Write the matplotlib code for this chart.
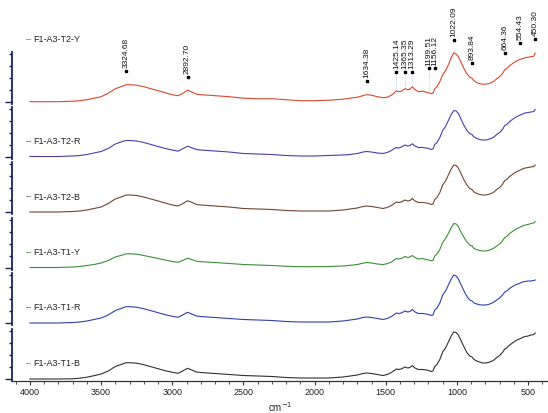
import matplotlib

matplotlib.use("Agg")
import matplotlib.pyplot as plt
from matplotlib.ticker import MultipleLocator, FixedLocator
import matplotlib.transforms as mtransforms

plt.rcParams['font.family'] = ['Liberation Sans', 'DejaVu Sans']

# wavenumbers (cm-1), shared by all spectra
wn = [4000, 3900, 3800, 3700, 3650, 3600, 3550, 3500, 3450, 3400, 3350, 3325,
      3300, 3250, 3200, 3150, 3100, 3050, 3000, 2960, 2930, 2893, 2860, 2830,
      2800, 2750, 2700, 2600, 2500, 2400, 2300, 2200, 2100, 2000, 1900, 1800,
      1750, 1700, 1660, 1634, 1600, 1560, 1520, 1490, 1460, 1440, 1425, 1410,
      1390, 1365, 1345, 1330, 1313, 1295, 1270, 1240, 1215, 1199, 1180, 1168,
      1156, 1140, 1120, 1100, 1080, 1060, 1040, 1022, 1005, 990, 970, 950,
      930, 910, 894, 880, 860, 840, 820, 800, 780, 760, 740, 720, 700, 680,
      664, 650, 630, 610, 590, 570, 554, 540, 520, 500, 480, 460, 450]

t2_y = [0.00, 0.00, 0.00, 0.005, 0.01, 0.02, 0.035, 0.05, 0.085, 0.13, 0.155, 0.17,
        0.17, 0.165, 0.15, 0.13, 0.11, 0.09, 0.07, 0.06, 0.08, 0.115, 0.095, 0.075,
        0.07, 0.065, 0.06, 0.05, 0.035, 0.03, 0.03, 0.02, 0.01, 0.01, 0.015, 0.025,
        0.035, 0.045, 0.06, 0.07, 0.065, 0.05, 0.04, 0.045, 0.065, 0.09, 0.11, 0.10,
        0.105, 0.13, 0.12, 0.125, 0.15, 0.12, 0.10, 0.105, 0.095, 0.09, 0.08, 0.085,
        0.13, 0.15, 0.20, 0.27, 0.31, 0.37, 0.44, 0.49, 0.475, 0.45, 0.39, 0.33,
        0.28, 0.245, 0.235, 0.21, 0.19, 0.18, 0.175, 0.175, 0.18, 0.19, 0.205, 0.23,
        0.25, 0.28, 0.32, 0.33, 0.36, 0.38, 0.40, 0.415, 0.425, 0.43, 0.44, 0.445,
        0.45, 0.455, 0.485]

t2_r = [0.00, 0.00, 0.00, 0.005, 0.01, 0.02, 0.035, 0.05, 0.08, 0.125, 0.15, 0.16,
        0.16, 0.155, 0.14, 0.12, 0.10, 0.08, 0.065, 0.053, 0.075, 0.103, 0.085, 0.07,
        0.065, 0.06, 0.055, 0.045, 0.03, 0.025, 0.02, 0.01, 0.005, 0.005, 0.01, 0.015,
        0.02, 0.03, 0.045, 0.05, 0.045, 0.035, 0.03, 0.04, 0.06, 0.08, 0.09, 0.085,
        0.095, 0.115, 0.105, 0.11, 0.127, 0.105, 0.09, 0.09, 0.085, 0.08, 0.07, 0.075,
        0.12, 0.14, 0.19, 0.26, 0.30, 0.36, 0.42, 0.46, 0.455, 0.43, 0.37, 0.31,
        0.26, 0.23, 0.22, 0.195, 0.18, 0.17, 0.165, 0.165, 0.17, 0.18, 0.195, 0.22,
        0.24, 0.27, 0.31, 0.32, 0.35, 0.37, 0.39, 0.405, 0.415, 0.425, 0.435, 0.44,
        0.445, 0.45, 0.47]

t2_b = [0.00, 0.00, 0.00, 0.005, 0.01, 0.02, 0.035, 0.05, 0.085, 0.13, 0.155, 0.17,
        0.17, 0.165, 0.15, 0.13, 0.11, 0.09, 0.07, 0.06, 0.08, 0.113, 0.095, 0.075,
        0.07, 0.065, 0.06, 0.05, 0.035, 0.03, 0.025, 0.015, 0.01, 0.01, 0.01, 0.02,
        0.03, 0.04, 0.055, 0.06, 0.055, 0.045, 0.035, 0.045, 0.065, 0.085, 0.10, 0.095,
        0.10, 0.12, 0.11, 0.115, 0.135, 0.11, 0.095, 0.095, 0.09, 0.085, 0.075, 0.08,
        0.125, 0.145, 0.195, 0.27, 0.31, 0.37, 0.43, 0.47, 0.465, 0.44, 0.38, 0.32,
        0.27, 0.235, 0.225, 0.20, 0.185, 0.175, 0.17, 0.17, 0.175, 0.185, 0.20, 0.225,
        0.245, 0.275, 0.315, 0.325, 0.355, 0.375, 0.395, 0.41, 0.42, 0.43, 0.44, 0.445,
        0.45, 0.455, 0.47]

t1_y = [0.00, 0.00, 0.00, 0.005, 0.01, 0.02, 0.03, 0.045, 0.07, 0.105, 0.125, 0.137,
        0.137, 0.133, 0.12, 0.105, 0.09, 0.075, 0.06, 0.052, 0.068, 0.093, 0.078, 0.062,
        0.058, 0.054, 0.05, 0.04, 0.03, 0.025, 0.02, 0.012, 0.008, 0.008, 0.01, 0.015,
        0.022, 0.03, 0.043, 0.05, 0.045, 0.035, 0.03, 0.038, 0.055, 0.075, 0.09, 0.085,
        0.09, 0.11, 0.10, 0.105, 0.12, 0.10, 0.085, 0.09, 0.08, 0.075, 0.068, 0.072,
        0.115, 0.135, 0.18, 0.25, 0.29, 0.34, 0.40, 0.44, 0.435, 0.41, 0.35, 0.30,
        0.255, 0.225, 0.215, 0.19, 0.178, 0.17, 0.165, 0.165, 0.17, 0.18, 0.195, 0.215,
        0.235, 0.265, 0.30, 0.31, 0.34, 0.36, 0.38, 0.395, 0.405, 0.415, 0.425, 0.43,
        0.44, 0.445, 0.46]

t1_r = [0.00, 0.00, 0.00, 0.005, 0.01, 0.02, 0.035, 0.05, 0.08, 0.125, 0.15, 0.163,
        0.163, 0.158, 0.143, 0.123, 0.103, 0.083, 0.067, 0.057, 0.078, 0.107, 0.088, 0.07,
        0.065, 0.06, 0.055, 0.045, 0.035, 0.03, 0.025, 0.015, 0.01, 0.01, 0.01, 0.02,
        0.03, 0.04, 0.055, 0.06, 0.055, 0.045, 0.035, 0.045, 0.065, 0.085, 0.10, 0.095,
        0.10, 0.12, 0.11, 0.115, 0.135, 0.11, 0.095, 0.095, 0.09, 0.085, 0.075, 0.08,
        0.13, 0.15, 0.20, 0.28, 0.32, 0.38, 0.44, 0.48, 0.47, 0.44, 0.38, 0.32,
        0.265, 0.23, 0.22, 0.20, 0.19, 0.182, 0.18, 0.18, 0.185, 0.195, 0.21, 0.23,
        0.25, 0.28, 0.31, 0.32, 0.345, 0.365, 0.38, 0.39, 0.40, 0.41, 0.415, 0.42,
        0.42, 0.425, 0.43]

t1_b = [0.00, 0.00, 0.00, 0.002, 0.008, 0.018, 0.033, 0.05, 0.08, 0.125, 0.15, 0.163,
        0.163, 0.158, 0.143, 0.123, 0.103, 0.083, 0.067, 0.057, 0.078, 0.107, 0.088, 0.07,
        0.065, 0.06, 0.055, 0.045, 0.035, 0.03, 0.025, 0.015, 0.01, 0.01, 0.01, 0.02,
        0.03, 0.04, 0.055, 0.06, 0.055, 0.045, 0.035, 0.045, 0.065, 0.085, 0.10, 0.095,
        0.10, 0.12, 0.11, 0.115, 0.135, 0.11, 0.095, 0.095, 0.09, 0.085, 0.075, 0.08,
        0.125, 0.145, 0.195, 0.27, 0.31, 0.37, 0.43, 0.47, 0.465, 0.44, 0.38, 0.32,
        0.265, 0.23, 0.22, 0.195, 0.18, 0.17, 0.16, 0.16, 0.165, 0.175, 0.19, 0.215,
        0.235, 0.265, 0.30, 0.31, 0.34, 0.36, 0.38, 0.395, 0.405, 0.415, 0.425, 0.43,
        0.44, 0.445, 0.46]

names = ["F1-A3-T2-Y", "F1-A3-T2-R", "F1-A3-T2-B",
         "F1-A3-T1-Y", "F1-A3-T1-R", "F1-A3-T1-B"]
spectra = [t2_y, t2_r, t2_b, t1_y, t1_r, t1_b]
colors = ["#d8482c", "#4b3cae", "#6e4632", "#3c8f38", "#3040a8", "#303030"]
dash_colors = ["#d8482c", "#3a3ad0", "#555555", "#2f6f2f", "#3a3ad0", "#777777"]

# peaks labelled on the top spectrum: wavenumber, marker height, curve height
peak_wn = [3324.68, 2892.70, 1634.38, 1425.14, 1365.35, 1313.29, 1199.51,
           1156.12, 1022.09, 893.84, 664.36, 554.43, 450.30]
peak_h = [0.31, 0.25, 0.21, 0.30, 0.30, 0.30, 0.334, 0.334, 0.615, 0.385,
          0.485, 0.585, 0.625]
peak_curve = [0.17, 0.115, 0.07, 0.11, 0.13, 0.15, 0.09, 0.13, 0.49, 0.235,
              0.32, 0.425, 0.485]
dotted_peaks = [1425.14, 1365.35, 1313.29, 1199.51]

W, H = 548, 413
fig = plt.figure(figsize=(W / 100, H / 100), dpi=100)

baselines = [101.7, 156.5, 212, 267.5, 323, 379]
left_px = 12.3
axis_col = "#18245e"

for i, (name, spec, col) in enumerate(zip(names, spectra, colors)):
    b = baselines[i]
    top_px = b - 50
    bot_px = b + 2
    ax = fig.add_axes([left_px / W, 1 - bot_px / H, (W - left_px) / W, (bot_px - top_px) / H])
    ax.plot(wn, spec, color=col, lw=0.8)
    ax.set_xlim(4124, 360)
    ax.set_ylim(-0.02, 0.50)
    for s in ["top", "right"]:
        ax.spines[s].set_visible(False)
    ax.spines["left"].set_color(axis_col)
    ax.spines["left"].set_linewidth(1.3)
    ax.yaxis.set_major_locator(FixedLocator([0.0]))
    ax.yaxis.set_minor_locator(FixedLocator([0.12, 0.24, 0.36, 0.48]))
    ax.tick_params(axis="y", which="major", length=5, width=1.0, color=axis_col, labelleft=False)
    ax.tick_params(axis="y", which="minor", length=2.5, width=1.0, color=axis_col)
    ax.patch.set_alpha(0)

    if i < len(names) - 1:
        ax.spines["bottom"].set_visible(False)
        ax.tick_params(axis="x", which="both", bottom=False, labelbottom=False)
    else:
        ax.spines["bottom"].set_color("#333333")
        ax.spines["bottom"].set_linewidth(0.9)
        ax.xaxis.set_major_locator(MultipleLocator(500))
        ax.xaxis.set_minor_locator(MultipleLocator(100))
        ax.tick_params(axis="x", which="major", length=3, width=0.8, color="#333333",
                       labelsize=6.5, pad=2, labelcolor="#222222")
        ax.tick_params(axis="x", which="minor", length=2, width=0.6, color="#333333")
        ax.set_xlabel("cm$^{-1}$", fontsize=7, labelpad=2, color="#222222")

    # series label
    ly = 0.62 if i == 0 else 0.15
    trans = mtransforms.blended_transform_factory(ax.transAxes, ax.transData)
    ax.text((26 - left_px) / (W - left_px), ly, "\u2013", color=dash_colors[i], fontsize=6.5,
            va="center", ha="left", transform=trans, clip_on=False)
    ax.text((33 - left_px) / (W - left_px), ly, name, color="#222222", fontsize=6.5,
            va="center", ha="left", transform=trans, clip_on=False)

    if i == 0:
        for pw, ph, pc in zip(peak_wn, peak_h, peak_curve):
            if pw in dotted_peaks:
                ax.plot([pw, pw], [pc, ph], color="#a9b8ec", lw=0.6, ls=":", clip_on=False)
            ax.plot([pw], [ph], "s", ms=2, color="black", clip_on=False)
            ax.annotate(f"{pw:.2f}", (pw, ph), xytext=(0, 2), textcoords="offset points",
                        rotation=90, ha="center", va="bottom", fontsize=6,
                        color="#111111", annotation_clip=False)

fig.savefig("out.png", dpi=100)
